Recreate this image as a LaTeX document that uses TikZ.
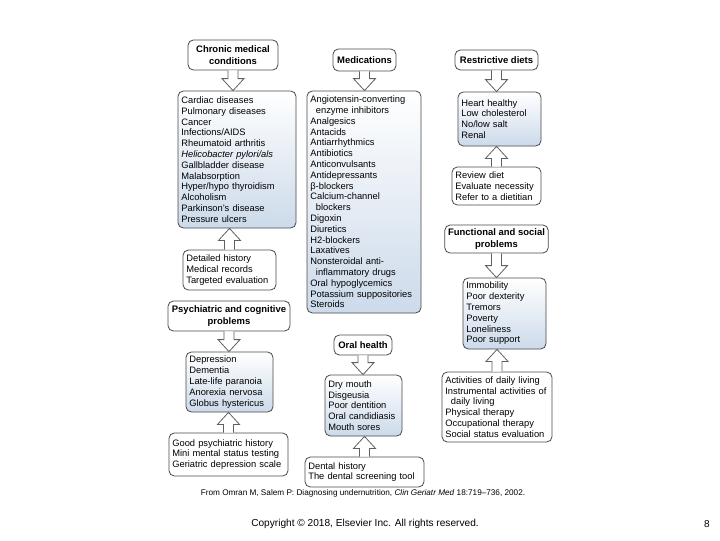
\documentclass[tikz,border=0pt]{standalone}
\usepackage{fontspec}
\setmainfont{Liberation Sans}
\usetikzlibrary{calc}
\definecolor{bordc}{HTML}{4A4A4A}
\definecolor{arrc}{HTML}{606060}
\definecolor{blueb}{HTML}{CCDAEA}
\tikzset{
  box/.style={draw=bordc, line width=0.6pt, rounded corners=4pt, inner xsep=2.5pt, inner ysep=2pt,
    font=\fontsize{7}{8.1}\selectfont, align=left},
  hdr/.style={box, fill=white, align=center, font=\bfseries\fontsize{7.1}{8.6}\selectfont},
  lst/.style={box, top color=white, bottom color=blueb},
  refbox/.style={box, fill=white},
  blk/.style={draw=arrc, fill=white, line width=0.6pt, line join=miter},
}
% down block arrow from #1 (above) to #2 (below)
\newcommand\blkdown[2]{%
  \draw[blk] let \p1=(#1.south), \p2=(#2.north) in
    (\x1-3.75pt,\y1) -- (\x1-3.75pt,\y2+9pt) -- (\x1-8.25pt,\y2+9pt) -- (\x1,\y2)
    -- (\x1+8.25pt,\y2+9pt) -- (\x1+3.75pt,\y2+9pt) -- (\x1+3.75pt,\y1);}
% up block arrow from #1 (below) to #2 (above)
\newcommand\blkup[2]{%
  \draw[blk] let \p1=(#1.north), \p2=(#2.south) in
    (\x1-3.75pt,\y1) -- (\x1-3.75pt,\y2-9pt) -- (\x1-8.25pt,\y2-9pt) -- (\x1,\y2)
    -- (\x1+8.25pt,\y2-9pt) -- (\x1+3.75pt,\y2-9pt) -- (\x1+3.75pt,\y1);}
\newcommand\ind{\hspace*{0.6em}}
\begin{document}
\begin{tikzpicture}[x=0.75pt,y=-0.75pt]
\path[use as bounding box, fill=white] (0,0) rectangle (720,540);
% left column
\node[hdr, minimum width=67.5pt, minimum height=22.5pt] (chronic) at (233,55) {Chronic medical\\conditions};
\node[lst, text width=83.5pt, minimum height=102.75pt] (cardiac) at (237,159.5) {Cardiac diseases\\Pulmonary diseases\\Cancer\\Infections/AIDS\\Rheumatoid arthritis\\\textit{Helicobacter pylori/als}\\Gallbladder disease\\Malabsorption\\Hyper/hypo thyroidism\\Alcoholism\\Parkinson's disease\\Pressure ulcers};
\node[refbox, text width=64.75pt, minimum height=30pt] (detailed) at (229.5,270) {Detailed history\\Medical records\\Targeted evaluation};
\node[hdr, minimum width=91.5pt, minimum height=22.5pt] (psych) at (229,316) {Psychiatric and cognitive\\problems};
\node[lst, text width=60.25pt, minimum height=45pt] (depr) at (229.5,382) {Depression\\Dementia\\Late-life paranoia\\Anorexia nervosa\\Globus hystericus};
\node[refbox, text width=84.25pt, minimum height=32.25pt] (goodpsy) at (228.5,454.5) {Good psychiatric history\\Mini mental status testing\\Geriatric depression scale};
% middle column
\node[hdr, minimum width=47.25pt, minimum height=16.5pt] (meds) at (364.5,60) {Medications};
\node[lst, text width=80.5pt, minimum height=166.5pt] (medlist) at (364,202) {Angiotensin-converting\\\ind enzyme inhibitors\\Analgesics\\Antacids\\Antiarrhythmics\\Antibiotics\\Anticonvulsants\\Antidepressants\\β-blockers\\Calcium-channel\\\ind blockers\\Digoxin\\Diuretics\\H2-blockers\\Laxatives\\Nonsteroidal anti-\\\ind inflammatory drugs\\Oral hypoglycemics\\Potassium suppositories\\Steroids};
\node[hdr, minimum width=43.5pt, minimum height=15pt] (oral) at (363,345) {Oral health};
\node[lst, text width=52.75pt, minimum height=45.75pt] (dry) at (363.5,405.5) {Dry mouth\\Disgeusia\\Poor dentition\\Oral candidiasis\\Mouth sores};
\node[refbox, text width=84.25pt, minimum height=22.5pt] (dental) at (364.5,472) {Dental history\\The dental screening tool};
% right column
\node[hdr, minimum width=62.25pt, minimum height=15pt] (restr) at (496.5,60) {Restrictive diets};
\node[lst, text width=57.25pt, minimum height=40.5pt] (heart) at (499.5,119) {Heart healthy\\Low cholesterol\\No/low salt\\Renal};
\node[refbox, text width=61.75pt, minimum height=28.5pt] (review) at (496.5,186) {Review diet\\Evaluate necessity\\Refer to a dietitian};
\node[hdr, minimum width=77.25pt, minimum height=21pt] (func) at (496.5,239) {Functional and social\\problems};
\node[lst, text width=57.25pt, minimum height=53.25pt] (immob) at (504.5,313.5) {Immobility\\Poor dexterity\\Tremors\\Poverty\\Loneliness\\Poor support};
\node[refbox, text width=77.5pt, minimum height=52.5pt] (activ) at (497,407) {Activities of daily living\\Instrumental activities of\\\ind daily living\\Physical therapy\\Occupational therapy\\Social status evaluation};
% arrows
\blkdown{chronic}{cardiac}
\blkup{detailed}{cardiac}
\blkdown{psych}{depr}
\blkup{goodpsy}{depr}
\blkdown{meds}{medlist}
\blkdown{oral}{dry}
\blkup{dental}{dry}
\blkdown{restr}{heart}
\blkup{review}{heart}
\blkdown{func}{immob}
\blkup{activ}{immob}
% captions
\node[font=\fontsize{6.15}{7}\selectfont, inner sep=0pt] (src) at (363,493) {From Omran M, Salem P: Diagnosing undernutrition, \textit{Clin Geriatr Med} 18:719–736, 2002.};
\node[font=\fontsize{7.6}{9}\selectfont, inner sep=0pt] (copy) at (365,524) {Copyright © 2018, Elsevier Inc. All rights reserved.};
\node[font=\fontsize{7.5}{9}\selectfont, inner sep=0pt] (pg) at (707,524) {8};
\end{tikzpicture}
\end{document}
